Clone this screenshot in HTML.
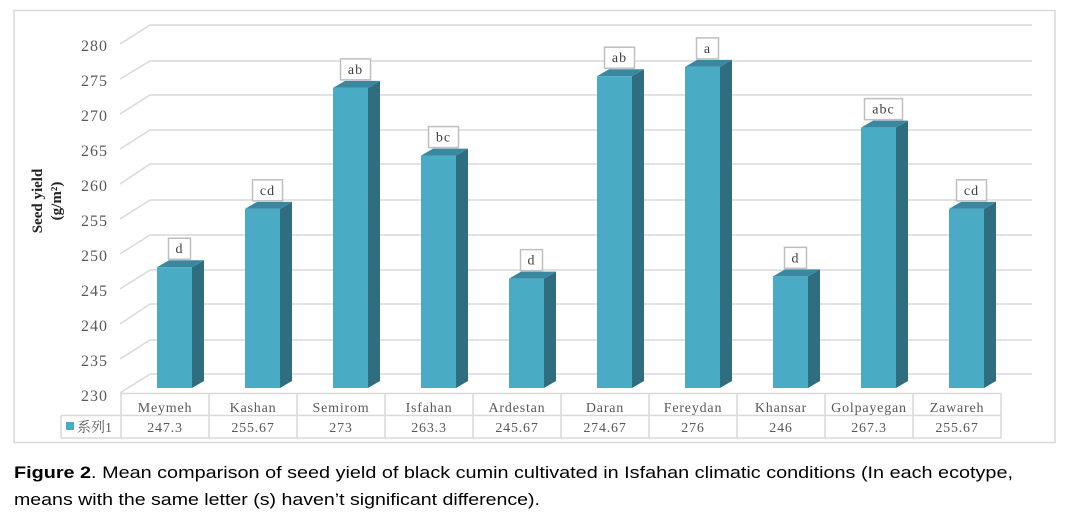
<!DOCTYPE html>
<html><head><meta charset="utf-8"><style>
html,body{margin:0;padding:0;background:#fff;width:1074px;height:521px;overflow:hidden}
svg{display:block}
</style></head><body>
<svg width="1074" height="521" viewBox="0 0 1074 521" xmlns="http://www.w3.org/2000/svg">
<rect x="14" y="10.5" width="1041" height="432" fill="#fff" stroke="#d9d9d9" stroke-width="1.5"/>
<g stroke="#d9d9d9" stroke-width="1.5" fill="none">
<path d="M120,44 L150,25 H1032"/>
<path d="M120,79 L150,61 H1032"/>
<path d="M120,114 L150,95 H1032"/>
<path d="M120,149 L150,130 H1032"/>
<path d="M120,184 L150,164 H1032"/>
<path d="M120,219 L150,200 H1032"/>
<path d="M120,254 L150,235 H1032"/>
<path d="M120,289 L150,270 H1032"/>
<path d="M120,324 L150,304 H1032"/>
<path d="M120,359 L150,340 H1032"/>
<path d="M120,393 L150,374 H1032"/>
</g>
<g font-family="Liberation Serif, serif" font-size="16" fill="#595959" text-anchor="end" letter-spacing="1">
<text x="108" y="51">280</text><text x="108" y="86">275</text><text x="108" y="121">270</text>
<text x="108" y="156">265</text><text x="108" y="191">260</text><text x="108" y="226">255</text>
<text x="108" y="261">250</text><text x="108" y="296">245</text><text x="108" y="331">240</text>
<text x="108" y="366">235</text><text x="108" y="401">230</text>
</g>
<g font-family="Liberation Serif, serif" font-size="15" font-weight="bold" fill="#222" text-anchor="middle">
<text transform="translate(42,201) rotate(-90)">Seed yield</text>
<text transform="translate(61,201) rotate(-90)">(g/m²)</text>
</g>
<g id="bars"></g>
<g stroke="#d9d9d9" stroke-width="1.5" fill="none">
<path d="M121,393.5 H1001 M61,415.5 H1001 M61,438 H1001 M61,415.5 V438 M1001,393.5 V438"/>
<path d="M121,393.5 V438 M209,393.5 V438 M297,393.5 V438 M385,393.5 V438 M473,393.5 V438 M561,393.5 V438 M649,393.5 V438 M737,393.5 V438 M825,393.5 V438 M913,393.5 V438"/>
</g>
<rect x="66" y="422" width="8" height="8" fill="#4aabc5"/>
<text x="77" y="432" font-family="Liberation Serif, 'Noto Serif CJK SC', serif" font-size="14" fill="#595959">系列1</text>
<g font-family="Liberation Serif, serif" font-size="14" fill="#595959" text-anchor="middle" letter-spacing="0.8">
<text x="165" y="412">Meymeh</text><text x="253" y="412">Kashan</text><text x="341" y="412">Semirom</text>
<text x="429" y="412">Isfahan</text><text x="517" y="412">Ardestan</text><text x="605" y="412">Daran</text>
<text x="693" y="412">Fereydan</text><text x="781" y="412">Khansar</text><text x="869" y="412">Golpayegan</text>
<text x="957" y="412">Zawareh</text>
<text x="165" y="432">247.3</text><text x="253" y="432">255.67</text><text x="341" y="432">273</text>
<text x="429" y="432">263.3</text><text x="517" y="432">245.67</text><text x="605" y="432">274.67</text>
<text x="693" y="432">276</text><text x="781" y="432">246</text><text x="869" y="432">267.3</text>
<text x="957" y="432">255.67</text>
</g>
<g font-family="Liberation Sans, Arial, sans-serif" font-size="17" fill="#000">
<text x="14" y="478" textLength="999" lengthAdjust="spacingAndGlyphs"><tspan font-weight="bold">Figure 2</tspan>. Mean comparison of seed yield of black cumin cultivated in Isfahan climatic conditions (In each ecotype,</text>
<text x="14" y="505" textLength="526" lengthAdjust="spacingAndGlyphs">means with the same letter (s) haven’t significant difference).</text>
</g>
</svg>
<script>
var vals=[247.3,255.67,273,263.3,245.67,274.67,276,246,267.3,255.67];
var labs=["d","cd","ab","bc","d","ab","a","d","abc","cd"];
var g=document.getElementById("bars"),s="";
for(var i=0;i<10;i++){
 var x=157+i*88,w=35,d=12,dy=7,b=388,t=388-(vals[i]-230)*6.98;
 s+='<polygon points="'+(x+w)+','+b+' '+(x+w+d)+','+(b-dy)+' '+(x+w+d)+','+(t-dy)+' '+(x+w)+','+t+'" fill="#2f6d80"/>';
 s+='<polygon points="'+x+','+t+' '+(x+d)+','+(t-dy)+' '+(x+w+d)+','+(t-dy)+' '+(x+w)+','+t+'" fill="#3a88a0"/>';
 s+='<rect x="'+x+'" y="'+t+'" width="'+w+'" height="'+(b-t)+'" fill="#4aabc5"/>';
 var lw=labs[i].length*8+14,cx=x+w/2+5,by=t-dy-1;
 s+='<rect x="'+(cx-lw/2)+'" y="'+(by-21)+'" width="'+lw+'" height="21" fill="#fff" stroke="#bfbfbf" stroke-width="1.5"/>';
 s+='<text x="'+cx+'" y="'+(by-6)+'" font-family="Liberation Serif, serif" font-size="14" fill="#404040" text-anchor="middle" letter-spacing="1">'+labs[i]+'</text>';
}
g.innerHTML=s;
</script>
</body></html>
